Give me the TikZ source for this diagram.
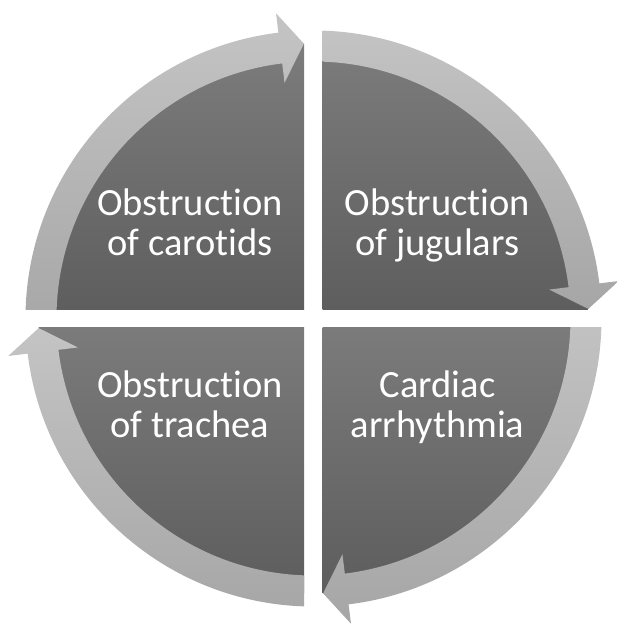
\documentclass[tikz,border=0pt]{standalone}
\usepackage{fontspec}
\setmainfont{Carlito}[Ligatures={NoCommon,NoContextual}]

\definecolor{wedgetop}{HTML}{7C7C7C}
\definecolor{wedgebot}{HTML}{5D5D5D}
\definecolor{bandtop}{HTML}{C4C4C4}
\definecolor{bandbot}{HTML}{A6A6A6}

\tikzset{
	wedge/.style={top color=wedgetop, bottom color=wedgebot},
	band/.style={top color=bandtop, bottom color=bandbot},
	quadlabel/.style={text=white, align=center, inner sep=0pt, font=\fontsize{38.5}{40}\selectfont}
}

\begin{document}
\begin{tikzpicture}[x=1pt, y=1pt]
		\useasboundingbox (-313.5,-305.5) rectangle (302.5,318.5);
		
		% top left
		\begin{scope}
			\clip (-9.25,9.25) rectangle (-330,330);
			\shade [wedge] (0,0) -- (180:275) arc (180:90:275) -- cycle;
			\shade [band] (184:288) arc (184:97:288) -- (97:307.5) -- (92:275) -- (97:237.5) -- (97:257) arc (97:184:257) -- cycle;
		\end{scope}
		
		% top right
		\begin{scope}
			\clip (9.25,9.25) rectangle (330,330);
			\shade [wedge] (0,0) -- (90:275) arc (90:0:275) -- cycle;
			\shade [band] (94:288) arc (94:7:288) -- (7:307.5) -- (2:275) -- (7:237.5) -- (7:257) arc (7:94:257) -- cycle;
		\end{scope}
		
		% bottom right
		\begin{scope}
			\clip (9.25,-9.25) rectangle (330,-330);
			\shade [wedge] (0,0) -- (0:275) arc (0:-90:275) -- cycle;
			\shade [band] (4:288) arc (4:-83:288) -- (-83:307.5) -- (-88:275) -- (-83:237.5) -- (-83:257) arc (-83:4:257) -- cycle;
		\end{scope}
		
		% bottom left
		\begin{scope}
			\clip (-9.25,-9.25) rectangle (-330,-330);
			\shade [wedge] (0,0) -- (-90:275) arc (-90:-180:275) -- cycle;
			\shade [band] (-86:288) arc (-86:-173:288) -- (-173:307.5) -- (-178:275) -- (-173:237.5) -- (-173:257) arc (-173:-86:257) -- cycle;
		\end{scope}
		
		\node [quadlabel] (carotids) at (-123.5, 91) {Obstruction\strut\\of carotids\strut};
		\node [quadlabel] (jugulars) at (124, 91) {Obstruction\strut\\of jugulars\strut};
		\node [quadlabel] (arrhythmia) at (124, -91) {Cardiac\strut\\arrhythmia\strut};
		\node [quadlabel] (trachea) at (-123.5, -91) {Obstruction\strut\\of trachea\strut};
\end{tikzpicture}
\end{document}
